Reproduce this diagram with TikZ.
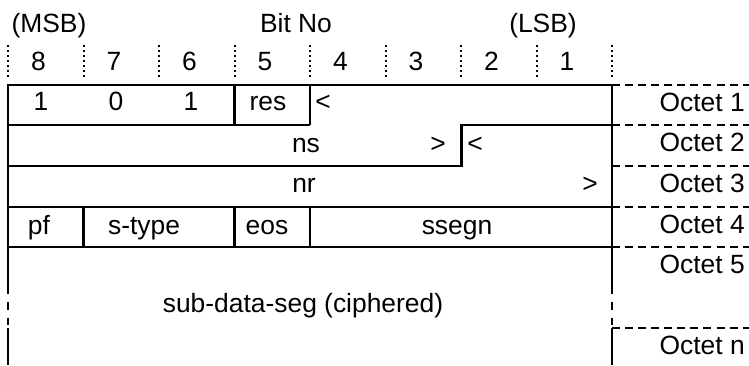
\documentclass[tikz,border=0pt]{standalone}
\usepackage{fontspec}
\setmainfont{Liberation Sans}
\usetikzlibrary{calc}
\tikzstyle{frame}=[line width=1.6pt]
\tikzstyle{octline}=[line width=1.6pt, dash pattern=on 6pt off 3.8pt]
\tikzstyle{breakline}=[line width=1.6pt, dash pattern=on 5.5pt off 6pt]
\tikzstyle{bitline}=[line width=1.5pt, dash pattern=on 1.5pt off 2.3pt]
\tikzstyle{field}=[inner sep=0pt, anchor=base, font=\fontsize{19.8}{22}\selectfont]
\newcommand{\octet}[3]{
 \draw[octline] (612,#1) -- (749,#1);
 \node[field, anchor=base east] (#3) at (745,#1+26) {Octet #2};
}

\begin{document}
\begin{tikzpicture}[x=0.75pt, y=-0.75pt]
 \useasboundingbox (0,0) rectangle (749,365);
%
 \node[field] (msb) at (49,32) {(MSB)};
 \node[field] (bitno) at (296,32) {Bit No};
 \node[field] (lsb) at (543,32) {(LSB)};
 \foreach \b [count=\i from 0] in {8,...,1} {
  \draw[bitline] (8+75.5*\i,45) -- (8+75.5*\i,80);
  \node[field] (bit\b) at (38.5+75.5*\i,70) {\b};
 }
 \draw[bitline] (612,45) -- (612,80);
%
 \draw[frame] (8,287) -- (8,85) -- (612,85) -- (612,287);
 \draw[frame] (8,328) -- (8,365);
 \draw[frame] (612,328) -- (612,365);
 \draw[breakline] (8,287) -- (8,328);
 \draw[breakline] (612,287) -- (612,328);
 \draw[frame] (8,125) -- (310,125);
 \draw[frame] (234.5,85) -- (234.5,125);
 \draw[frame] (310,85) -- (310,125);
 \draw[frame] (612,125) -- (461.5,125) -- (461.5,166) -- (8,166);
 \draw[frame] (8,207) -- (612,207);
 \draw[frame] (8,247) -- (612,247);
 \draw[frame] (83.5,207) -- (83.5,247);
 \draw[frame] (234.5,207) -- (234.5,247);
 \draw[frame] (310,207) -- (310,247);
%
 \node[field] (one) at (41,110) {1};
 \node[field] (zero) at (116,110) {0};
 \node[field] (onebis) at (191,110) {1};
 \node[field] (res) at (268,110) {res};
 \node[field, anchor=base west] (nsopen) at (315,110) {<};
 \node[field] (ns) at (306,152) {ns};
 \node[field] (nsclose) at (438,152) {>};
 \node[field, anchor=base west] (nropen) at (467,152) {<};
 \node[field] (nr) at (304,192) {nr};
 \node[field] (nrclose) at (590,192) {>};
 \node[field] (pf) at (39,234) {pf};
 \node[field] (stype) at (144,234) {s-type};
 \node[field] (eos) at (267,234) {eos};
 \node[field] (ssegn) at (457,234) {ssegn};
 \node[field] (subdata) at (303,312) {sub-data-seg (ciphered)};
%
 \octet{85}{1}{oct1}
 \octet{125}{2}{oct2}
 \octet{166}{3}{oct3}
 \octet{207}{4}{oct4}
 \octet{247}{5}{oct5}
 \octet{328}{n}{octn}
\end{tikzpicture}
\end{document}
